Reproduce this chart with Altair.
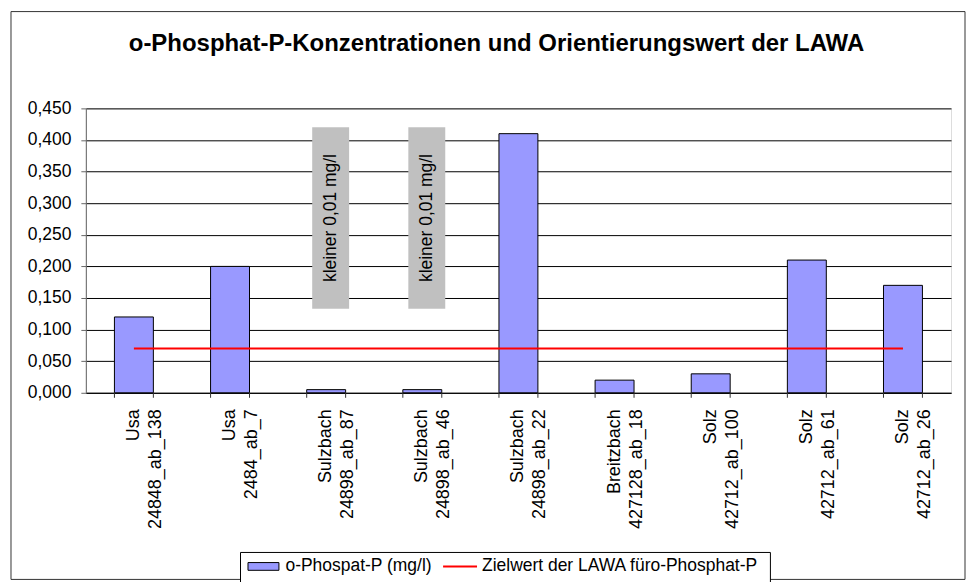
import altair as alt
import pandas as pd

# ---- data ----
categories = [
    "Usa 24848_ab_138",
    "Usa 2484_ab_7",
    "Sulzbach 24898_ab_87",
    "Sulzbach 24898_ab_46",
    "Sulzbach 24898_ab_22",
    "Breitzbach 427128_ab_18",
    "Solz 42712_ab_100",
    "Solz 42712_ab_61",
    "Solz 42712_ab_26",
]
phosphat = [0.120, 0.200, 0.005, 0.005, 0.410, 0.020, 0.030, 0.210, 0.170]
zielwert = [0.07, 0.07, 0.07, 0.07, 0.07, 0.07, 0.07, 0.07, 0.07]
note_categories = ["Sulzbach 24898_ab_87", "Sulzbach 24898_ab_46"]
note_top = [0.42, 0.42]
note_bottom = [0.133, 0.133]
note_text = ["kleiner 0,01 mg/l", "kleiner 0,01 mg/l"]
y_ticks = [0.0, 0.05, 0.10, 0.15, 0.20, 0.25, 0.30, 0.35, 0.40, 0.45]
bar_label = "o-Phospat-P (mg/l)"
line_label = "Zielwert der LAWA füro-Phosphat-P"
title_text = "o-Phosphat-P-Konzentrationen und Orientierungswert der LAWA"

FONT = "Liberation Sans"
W, H = 867, 285
PAD = {"left": 78, "top": 100, "right": 15, "bottom": 189}
TOTAL_H = PAD["top"] + H + PAD["bottom"]

bars_df = pd.DataFrame({"cat": categories, "value": phosphat, "series": [bar_label] * len(categories)})
line_df = pd.DataFrame({"cat": categories, "value": zielwert, "series": [line_label] * len(categories)})
note_df = pd.DataFrame({"cat": note_categories, "top": note_top, "bottom": note_bottom, "text": note_text})
note_df["mid"] = (note_df["top"] + note_df["bottom"]) / 2
one = pd.DataFrame({"k": [0]})

x_scale = alt.Scale(domain=categories, paddingInner=0.595, paddingOuter=0.2975)
y_scale = alt.Scale(domain=[0, 0.45], nice=False)

x_axis = alt.Axis(
    title=None, labelAngle=270, ticks=False, tickSize=0, labelPadding=16,
    labelExpr="split(datum.label, ' ')", labelLineHeight=22,
    labelFontSize=18, labelColor="black", domainColor="black", grid=False,
)
y_axis = alt.Axis(
    title=None, values=y_ticks, labelExpr="replace(format(datum.value, '.3f'), '.', ',')",
    labelFontSize=17.5, labelColor="black", tickSize=5, tickColor="#666666",
    labelPadding=10, domainColor="#666666", grid=True, gridColor="black", gridOpacity=1,
    labelOverlap=False, tickCount=10,
)

X = lambda **kw: alt.X("cat:N", scale=x_scale, axis=x_axis, sort=categories, **kw)

frame = alt.Chart(one).mark_rect(fill=None, stroke="#333333", strokeWidth=1).encode(
    x=alt.value(-75), x2=alt.value(W + 14), y=alt.value(-97), y2=alt.value(TOTAL_H - PAD["top"] - 2)
)
legend_box = alt.Chart(one).mark_rect(fill="white", stroke="black", strokeWidth=1).encode(
    x=alt.value(155), x2=alt.value(686), y=alt.value(445), y2=alt.value(TOTAL_H - PAD["top"] + 10)
)

bars = alt.Chart(bars_df).mark_bar(stroke="black", strokeWidth=1).encode(
    x=X(),
    y=alt.Y("value:Q", scale=y_scale, axis=y_axis),
    color=alt.Color(
        "series:N",
        scale=alt.Scale(domain=[bar_label], range=["#9999FF"]),
        legend=alt.Legend(
            orient="none", legendX=162, legendY=443, title=None, padding=0,
            symbolType="M-1,-0.25H1V0.25H-1Z", symbolSize=961,
            symbolStrokeColor="black", symbolStrokeWidth=1, symbolOpacity=1,
            labelFontSize=17.5, labelFont=FONT, labelColor="black", labelOffset=6, labelLimit=0,
        ),
    ),
)

ticks_left = alt.Chart(bars_df).mark_rule(color="#333333", strokeWidth=1).encode(
    x=X(bandPosition=0), y=alt.value(H), y2=alt.value(H + 5)
)
ticks_right = alt.Chart(bars_df).mark_rule(color="#333333", strokeWidth=1).encode(
    x=X(bandPosition=1), y=alt.value(H), y2=alt.value(H + 5)
)

notes = alt.Chart(note_df).mark_bar(color="#C0C0C0", width=37, xOffset=4.5).encode(
    x=X(), y=alt.Y("top:Q", scale=y_scale, axis=y_axis), y2="bottom:Q"
)
note_labels = alt.Chart(note_df).mark_text(
    angle=270, fontSize=17.5, font=FONT, color="black", xOffset=4.5, align="center", baseline="middle"
).encode(x=X(), y=alt.Y("mid:Q", scale=y_scale, axis=y_axis), text="text:N")

line = alt.Chart(line_df).mark_line(strokeWidth=2).encode(
    x=X(),
    y=alt.Y("value:Q", scale=y_scale, axis=y_axis),
    stroke=alt.Stroke(
        "series:N",
        scale=alt.Scale(domain=[line_label], range=["#FF0000"]),
        legend=alt.Legend(
            orient="none", legendX=357, legendY=441, title=None, padding=0,
            symbolType="stroke", symbolSize=1156, symbolStrokeWidth=2,
            labelFontSize=17.5, labelFont=FONT, labelColor="black", labelOffset=4, labelLimit=0,
        ),
    ),
)

chart = (
    alt.layer(frame, legend_box, bars, ticks_left, ticks_right, notes, note_labels, line)
    .resolve_legend(color="independent", stroke="independent")
    .properties(
        width=W, height=H, padding=PAD,
        autosize=alt.AutoSizeParams(type="none"),
        title=alt.TitleParams(
            text=title_text, fontSize=24, font=FONT, fontWeight="bold", color="black",
            anchor="middle", frame="group", baseline="alphabetic", offset=0, dy=64, dx=-22,
        ),
    )
    .configure_view(stroke="#808080", strokeWidth=1)
    .configure_axis(labelFont=FONT)
    .configure(background="white")
)

chart.save("out.html", embed_options={"renderer": "svg", "actions": False})
